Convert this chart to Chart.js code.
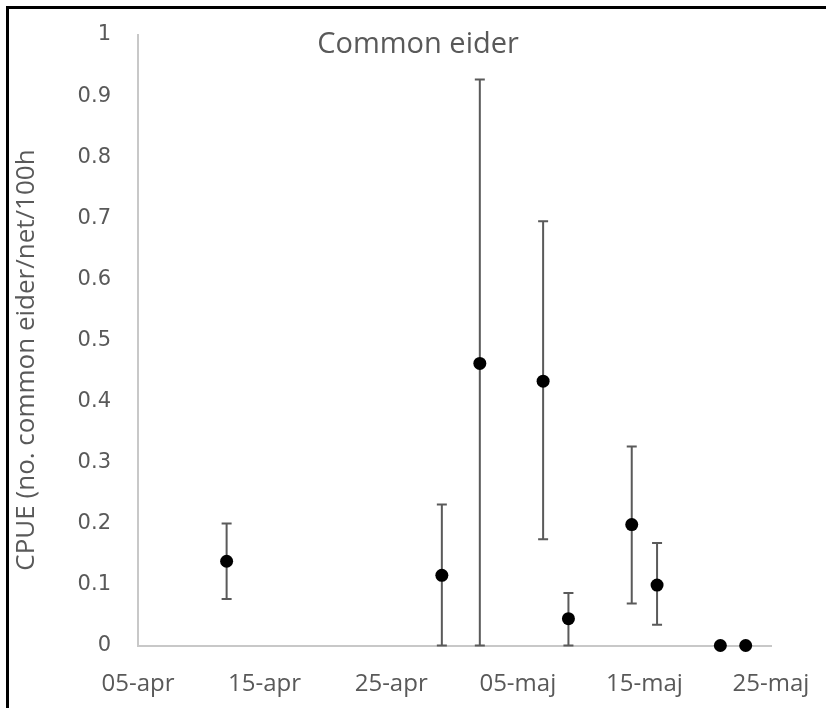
<!DOCTYPE html>
<html>
<head>
<meta charset="utf-8">
<script src="https://cdn.jsdelivr.net/npm/chart.js@4/dist/chart.umd.min.js"></script>
<style>
  html, body { margin: 0; padding: 0; background: #fff; }
  #wrap { position: relative; width: 826px; height: 708px; }
  #frame { position: absolute; left: 6px; top: 6px; right: 0; bottom: 0; border-left: 3px solid #000; border-top: 3px solid #000; pointer-events: none; z-index: 2; }
  canvas { position: absolute; left: 0; top: 0; }
</style>
</head>
<body>
<div id="wrap">
  <canvas id="c" width="826" height="708"></canvas>
  <div id="frame"></div>
</div>
<script>
// ---- data ----
const chartTitle = 'Common eider';
const yAxisTitle = 'CPUE (no. common eider/net/100h';
const xTickLabels = ['05-apr', '15-apr', '25-apr', '05-maj', '15-maj', '25-maj'];
const yTickValues = [0, 0.1, 0.2, 0.3, 0.4, 0.5, 0.6, 0.7, 0.8, 0.9, 1];
const startDate = '04-05';
const sampleDates = ['04-12', '04-29', '05-02', '05-07', '05-09', '05-14', '05-16', '05-21', '05-23'];
const cpue  = [0.138, 0.115, 0.462, 0.433, 0.044, 0.198, 0.099, 0, 0];
const upper = [0.200, 0.231, 0.927, 0.695, 0.086, 0.326, 0.168, 0, 0];
const lower = [0.076, 0.000, 0.000, 0.174, 0.000, 0.069, 0.034, 0, 0];

function dayOffset(md) {
  const [m, d] = md.split('-').map(Number);
  const [m0, d0] = startDate.split('-').map(Number);
  return (Date.UTC(2019, m - 1, d) - Date.UTC(2019, m0 - 1, d0)) / 86400000;
}
const xs = sampleDates.map(dayOffset);
const points = xs.map((x, i) => ({ x: x, y: cpue[i] }));

const TEXT = '#595959';

const errorBars = {
  id: 'errorBars',
  beforeDatasetsDraw(chart) {
    const { ctx, scales: { x, y } } = chart;
    ctx.save();
    ctx.strokeStyle = '#5a5a5a';
    ctx.lineWidth = 2;
    xs.forEach((xv, i) => {
      if (upper[i] === lower[i]) return;
      const px = x.getPixelForValue(xv);
      const pt = y.getPixelForValue(upper[i]);
      const pb = y.getPixelForValue(lower[i]);
      ctx.beginPath();
      ctx.moveTo(px, pt); ctx.lineTo(px, pb);
      ctx.moveTo(px - 5, pt); ctx.lineTo(px + 5, pt);
      ctx.moveTo(px - 5, pb); ctx.lineTo(px + 5, pb);
      ctx.stroke();
    });
    ctx.restore();
  }
};

const extraText = {
  id: 'extraText',
  afterDraw(chart) {
    const ctx = chart.ctx;
    ctx.save();
    ctx.fillStyle = TEXT;
    ctx.textAlign = 'center';
    ctx.textBaseline = 'middle';
    ctx.font = '29px "Open Sans"';
    ctx.fillText(chartTitle, 418, 45);
    ctx.translate(27, 360);
    ctx.rotate(-Math.PI / 2);
    ctx.font = '26px "Open Sans"';
    ctx.fillText(yAxisTitle, 0, 0);
    ctx.restore();
  }
};

new Chart(document.getElementById('c'), {
  type: 'scatter',
  data: {
    datasets: [{
      data: points,
      pointRadius: 6.5,
      pointHoverRadius: 6.5,
      backgroundColor: '#000',
      borderWidth: 0,
      clip: false
    }]
  },
  options: {
    responsive: false,
    animation: false,
    events: [],
    layout: { padding: { left: 0, right: 55, top: 35, bottom: 0 } },
    plugins: { legend: { display: false }, tooltip: { enabled: false }, title: { display: false } },
    scales: {
      x: {
        type: 'linear',
        min: 0,
        max: (xTickLabels.length - 1) * 10,
        afterFit(s) { s.height = 62.5; s.paddingLeft = 0; s.paddingRight = 0; },
        afterBuildTicks(s) { s.ticks = xTickLabels.map((_, i) => ({ value: i * 10 })); },
        grid: { display: false, drawTicks: false },
        border: { color: '#c8c8c8', width: 2 },
        ticks: {
          autoSkip: false, maxRotation: 0, padding: 24,
          color: TEXT, font: { family: '"Open Sans"', size: 24 },
          callback: (v) => xTickLabels[Math.round(v / 10)]
        }
      },
      y: {
        min: 0,
        max: 1,
        afterFit(s) { s.width = 138; s.paddingTop = 0; s.paddingBottom = 0; },
        afterBuildTicks(s) { s.ticks = yTickValues.map(v => ({ value: v })); },
        grid: { display: false, drawTicks: false },
        border: { color: '#c8c8c8', width: 2 },
        ticks: {
          padding: 27,
          color: TEXT, font: { family: '"DejaVu Sans"', size: 21 },
          callback: (v) => String(Math.round(v * 10) / 10)
        }
      }
    }
  },
  plugins: [errorBars, extraText]
});
</script>
</body>
</html>
